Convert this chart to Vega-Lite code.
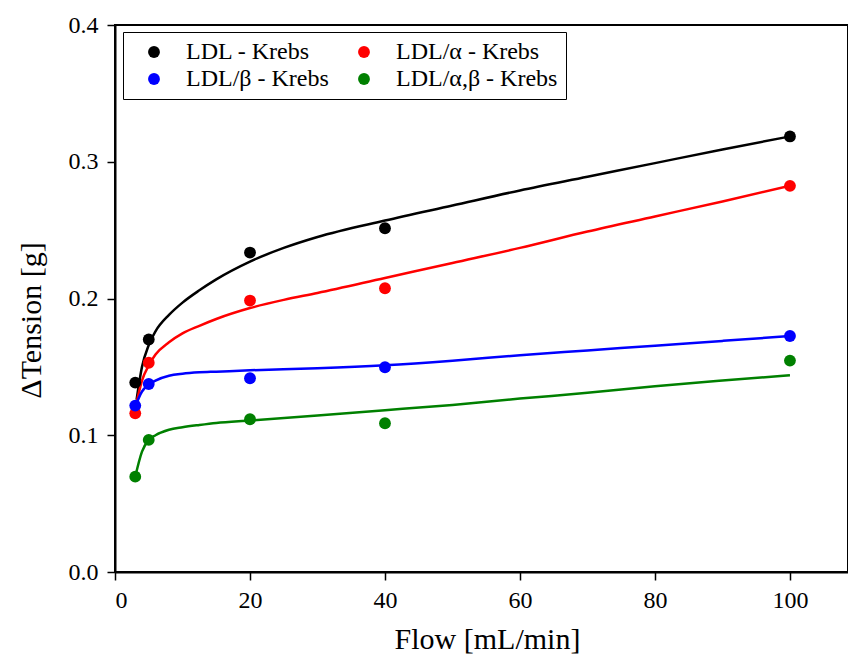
{
  "$schema": "https://vega.github.io/schema/vega-lite/v6.json",
  "autosize": "none",
  "width": 733,
  "height": 547,
  "padding": {"left": 115, "top": 25, "right": 0, "bottom": 85},
  "background": "white",
  "config": {
    "font": "Liberation Serif",
    "view": {"stroke": "black", "strokeWidth": 2},
    "axis": {
      "grid": false,
      "domainColor": "black",
      "domainWidth": 2,
      "tickColor": "black",
      "tickWidth": 1.5,
      "tickSize": 8,
      "labelFont": "Liberation Serif",
      "labelFontSize": 24,
      "labelColor": "black",
      "titleFont": "Liberation Serif",
      "titleFontSize": 30,
      "titleFontWeight": "normal",
      "titleColor": "black"
    },
    "legend": {
      "labelFont": "Liberation Serif",
      "labelFontSize": 24,
      "labelColor": "black"
    }
  },
  "datasets": {
    "pts": [
      {"flow": 3, "tension": 0.1385, "series": "LDL - Krebs"},
      {"flow": 5, "tension": 0.170, "series": "LDL - Krebs"},
      {"flow": 20, "tension": 0.2336, "series": "LDL - Krebs"},
      {"flow": 40, "tension": 0.2514, "series": "LDL - Krebs"},
      {"flow": 100, "tension": 0.3185, "series": "LDL - Krebs"},
      {"flow": 3, "tension": 0.116, "series": "LDL/α - Krebs"},
      {"flow": 5, "tension": 0.153, "series": "LDL/α - Krebs"},
      {"flow": 20, "tension": 0.1985, "series": "LDL/α - Krebs"},
      {"flow": 40, "tension": 0.2075, "series": "LDL/α - Krebs"},
      {"flow": 100, "tension": 0.2824, "series": "LDL/α - Krebs"},
      {"flow": 3, "tension": 0.1217, "series": "LDL/β - Krebs"},
      {"flow": 5, "tension": 0.1375, "series": "LDL/β - Krebs"},
      {"flow": 20, "tension": 0.1417, "series": "LDL/β - Krebs"},
      {"flow": 40, "tension": 0.1497, "series": "LDL/β - Krebs"},
      {"flow": 100, "tension": 0.1726, "series": "LDL/β - Krebs"},
      {"flow": 3, "tension": 0.0697, "series": "LDL/α,β - Krebs"},
      {"flow": 5, "tension": 0.0966, "series": "LDL/α,β - Krebs"},
      {"flow": 20, "tension": 0.1117, "series": "LDL/α,β - Krebs"},
      {"flow": 40, "tension": 0.1088, "series": "LDL/α,β - Krebs"},
      {"flow": 100, "tension": 0.1546, "series": "LDL/α,β - Krebs"}
    ],
    "fit": [
      {"flow": 3.2, "tension": 0.126, "series": "LDL - Krebs"},
      {"flow": 4, "tension": 0.150, "series": "LDL - Krebs"},
      {"flow": 5, "tension": 0.166, "series": "LDL - Krebs"},
      {"flow": 6, "tension": 0.176, "series": "LDL - Krebs"},
      {"flow": 8, "tension": 0.188, "series": "LDL - Krebs"},
      {"flow": 10, "tension": 0.197, "series": "LDL - Krebs"},
      {"flow": 12.5, "tension": 0.206, "series": "LDL - Krebs"},
      {"flow": 15, "tension": 0.214, "series": "LDL - Krebs"},
      {"flow": 20, "tension": 0.227, "series": "LDL - Krebs"},
      {"flow": 25, "tension": 0.237, "series": "LDL - Krebs"},
      {"flow": 30, "tension": 0.245, "series": "LDL - Krebs"},
      {"flow": 40, "tension": 0.257, "series": "LDL - Krebs"},
      {"flow": 50, "tension": 0.268, "series": "LDL - Krebs"},
      {"flow": 60, "tension": 0.279, "series": "LDL - Krebs"},
      {"flow": 70, "tension": 0.289, "series": "LDL - Krebs"},
      {"flow": 80, "tension": 0.299, "series": "LDL - Krebs"},
      {"flow": 90, "tension": 0.309, "series": "LDL - Krebs"},
      {"flow": 100, "tension": 0.3185, "series": "LDL - Krebs"},
      {"flow": 3.2, "tension": 0.124, "series": "LDL/α - Krebs"},
      {"flow": 4, "tension": 0.140, "series": "LDL/α - Krebs"},
      {"flow": 5, "tension": 0.151, "series": "LDL/α - Krebs"},
      {"flow": 6, "tension": 0.159, "series": "LDL/α - Krebs"},
      {"flow": 8, "tension": 0.168, "series": "LDL/α - Krebs"},
      {"flow": 10, "tension": 0.1745, "series": "LDL/α - Krebs"},
      {"flow": 12.5, "tension": 0.180, "series": "LDL/α - Krebs"},
      {"flow": 15, "tension": 0.185, "series": "LDL/α - Krebs"},
      {"flow": 20, "tension": 0.193, "series": "LDL/α - Krebs"},
      {"flow": 25, "tension": 0.199, "series": "LDL/α - Krebs"},
      {"flow": 30, "tension": 0.204, "series": "LDL/α - Krebs"},
      {"flow": 40, "tension": 0.215, "series": "LDL/α - Krebs"},
      {"flow": 50, "tension": 0.226, "series": "LDL/α - Krebs"},
      {"flow": 60, "tension": 0.237, "series": "LDL/α - Krebs"},
      {"flow": 70, "tension": 0.249, "series": "LDL/α - Krebs"},
      {"flow": 80, "tension": 0.260, "series": "LDL/α - Krebs"},
      {"flow": 90, "tension": 0.271, "series": "LDL/α - Krebs"},
      {"flow": 100, "tension": 0.2824, "series": "LDL/α - Krebs"},
      {"flow": 3, "tension": 0.121, "series": "LDL/β - Krebs"},
      {"flow": 4, "tension": 0.132, "series": "LDL/β - Krebs"},
      {"flow": 5, "tension": 0.137, "series": "LDL/β - Krebs"},
      {"flow": 6, "tension": 0.140, "series": "LDL/β - Krebs"},
      {"flow": 8, "tension": 0.1435, "series": "LDL/β - Krebs"},
      {"flow": 10, "tension": 0.145, "series": "LDL/β - Krebs"},
      {"flow": 12.5, "tension": 0.146, "series": "LDL/β - Krebs"},
      {"flow": 15, "tension": 0.1465, "series": "LDL/β - Krebs"},
      {"flow": 20, "tension": 0.1475, "series": "LDL/β - Krebs"},
      {"flow": 30, "tension": 0.149, "series": "LDL/β - Krebs"},
      {"flow": 40, "tension": 0.1512, "series": "LDL/β - Krebs"},
      {"flow": 50, "tension": 0.1545, "series": "LDL/β - Krebs"},
      {"flow": 60, "tension": 0.1585, "series": "LDL/β - Krebs"},
      {"flow": 70, "tension": 0.162, "series": "LDL/β - Krebs"},
      {"flow": 80, "tension": 0.1655, "series": "LDL/β - Krebs"},
      {"flow": 90, "tension": 0.169, "series": "LDL/β - Krebs"},
      {"flow": 100, "tension": 0.1725, "series": "LDL/β - Krebs"},
      {"flow": 3, "tension": 0.0697, "series": "LDL/α,β - Krebs"},
      {"flow": 4, "tension": 0.088, "series": "LDL/α,β - Krebs"},
      {"flow": 5, "tension": 0.0966, "series": "LDL/α,β - Krebs"},
      {"flow": 6, "tension": 0.100, "series": "LDL/α,β - Krebs"},
      {"flow": 8, "tension": 0.104, "series": "LDL/α,β - Krebs"},
      {"flow": 10, "tension": 0.1058, "series": "LDL/α,β - Krebs"},
      {"flow": 12.5, "tension": 0.1075, "series": "LDL/α,β - Krebs"},
      {"flow": 15, "tension": 0.109, "series": "LDL/α,β - Krebs"},
      {"flow": 20, "tension": 0.1108, "series": "LDL/α,β - Krebs"},
      {"flow": 30, "tension": 0.1145, "series": "LDL/α,β - Krebs"},
      {"flow": 40, "tension": 0.1183, "series": "LDL/α,β - Krebs"},
      {"flow": 50, "tension": 0.1222, "series": "LDL/α,β - Krebs"},
      {"flow": 60, "tension": 0.1268, "series": "LDL/α,β - Krebs"},
      {"flow": 70, "tension": 0.131, "series": "LDL/α,β - Krebs"},
      {"flow": 80, "tension": 0.1358, "series": "LDL/α,β - Krebs"},
      {"flow": 90, "tension": 0.140, "series": "LDL/α,β - Krebs"},
      {"flow": 100, "tension": 0.1439, "series": "LDL/α,β - Krebs"}
    ]
  },
  "resolve": {"legend": {"color": "independent"}},
  "layer": [
    {
      "data": {"name": "fit"},
      "mark": {"type": "line", "interpolate": "monotone", "strokeWidth": 2.5},
      "encoding": {
        "x": {
          "field": "flow",
          "type": "quantitative",
          "scale": {"domain": [0, 108.6], "nice": false, "zero": false},
          "axis": {"values": [0, 20, 40, 60, 80, 100], "title": "Flow [mL/min]", "labelFont": "Liberation Serif", "labelFontSize": 24, "titleFont": "Liberation Serif", "titleFontSize": 30, "labelPadding": 8, "titlePadding": 12, "titleX": 372}
        },
        "y": {
          "field": "tension",
          "type": "quantitative",
          "scale": {"domain": [0, 0.4], "nice": false},
          "axis": {"values": [0, 0.1, 0.2, 0.3, 0.4], "format": ".1f", "title": "ΔTension [g]", "labelFont": "Liberation Serif", "labelFontSize": 24, "titleFont": "Liberation Serif", "titleFontSize": 30, "labelPadding": 9, "titlePadding": 22, "titleY": 295}
        },
        "color": {
          "field": "series",
          "type": "nominal",
          "scale": {
            "domain": ["LDL - Krebs", "LDL/α - Krebs", "LDL/β - Krebs", "LDL/α,β - Krebs"],
            "range": ["#000000", "#ff0000", "#0000ff", "#008000"]
          },
          "legend": null
        }
      }
    },
    {
      "data": {"name": "pts"},
      "mark": {"type": "point", "shape": "circle", "filled": true, "opacity": 1, "size": 140},
      "encoding": {
        "x": {"field": "flow", "type": "quantitative"},
        "y": {"field": "tension", "type": "quantitative"},
        "color": {
          "field": "series",
          "type": "nominal",
          "legend": {
            "title": null,
            "orient": "none",
            "legendX": 8,
            "legendY": 7,
            "columns": 2,
            "direction": "horizontal",
            "strokeColor": "black",
            "padding": 8,
            "symbolOffset": 11,
            "symbolSize": 140,
            "symbolType": "circle",
            "symbolStrokeWidth": 0,
            "labelFont": "Liberation Serif",
            "labelFontSize": 24,
            "labelOffset": 20,
            "labelLimit": 400,
            "labelExpr": "(datum.value == 'LDL/α - Krebs' || datum.value == 'LDL/α,β - Krebs') ? datum.label + '\u00a0\u00a0\u00a0\u00a0\u00a0\u00a0\u00a0\u00a0\u00a0' : datum.label",
            "columnPadding": 12,
            "rowPadding": 3
          }
        }
      }
    }
  ]
}
